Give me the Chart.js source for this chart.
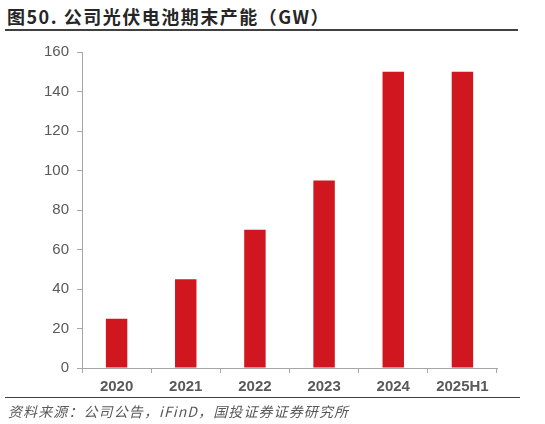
<!DOCTYPE html>
<html>
<head>
<meta charset="utf-8">
<script src="https://cdn.jsdelivr.net/npm/chart.js@4"></script>
<style>
  body { margin: 0; background: #fff; width: 545px; height: 424px; position: relative; overflow: hidden; }
  #title { position: absolute; left: 7px; top: 3px; font: bold 18px "Noto Sans CJK SC", sans-serif; color: #262626; letter-spacing: 1.5px; }
  #topLine { position: absolute; left: 5px; top: 29px; width: 513px; height: 2px; background: #404040; }
  #chartBox { position: absolute; left: 0; top: 35px; width: 545px; height: 365px; }
  #botLine { position: absolute; left: 5px; top: 397px; width: 515px; height: 1px; background: #404040; }
  #source { position: absolute; left: 8px; top: 401px; font: italic 14px "Noto Sans CJK SC", sans-serif; color: #595959; letter-spacing: 1.1px; }
</style>
</head>
<body>
<div id="title">图50. 公司光伏电池期末产能（GW）</div>
<div id="topLine"></div>
<div id="chartBox"><canvas id="chart"></canvas></div>
<div id="botLine"></div>
<div id="source">资料来源：公司公告，iFinD，国投证券证券研究所</div>
<script>
// ---------- DATA ----------
const categories = ["2020", "2021", "2022", "2023", "2024", "2025H1"];
const capacityGW = [25, 45, 70, 95, 150, 150];
const yTicks = [0, 20, 40, 60, 80, 100, 120, 140, 160];

const axisGray = "#a6a6a6";
const labelGray = "#595959";

new Chart(document.getElementById("chart"), {
  type: "bar",
  data: {
    labels: categories,
    datasets: [{ data: capacityGW, backgroundColor: "#d0161e", barPercentage: 0.31, categoryPercentage: 1 }]
  },
  options: {
    responsive: true,
    maintainAspectRatio: false,
    animation: false,
    layout: { padding: { left: 0, top: 7, right: 48, bottom: 0 } },
    plugins: { legend: { display: false }, tooltip: { enabled: false } },
    scales: {
      x: {
        grid: { drawOnChartArea: false, color: axisGray, tickLength: 5, offset: true },
        border: { color: axisGray, width: 1 },
        ticks: { color: labelGray, padding: 5, font: { family: "Liberation Sans, Arial", size: 15, weight: "bold" } },
        afterFit: s => { s.height = 32; }
      },
      y: {
        min: 0, max: 160,
        afterBuildTicks: s => { s.ticks = yTicks.map(v => ({ value: v })); },
        grid: { drawOnChartArea: false, color: axisGray, tickLength: 5 },
        border: { color: axisGray, width: 1 },
        ticks: { color: labelGray, padding: 8, font: { family: "Liberation Sans, Arial", size: 15 } },
        afterFit: s => { s.width = 82; }
      }
    }
  }
});
</script>
</body>
</html>
